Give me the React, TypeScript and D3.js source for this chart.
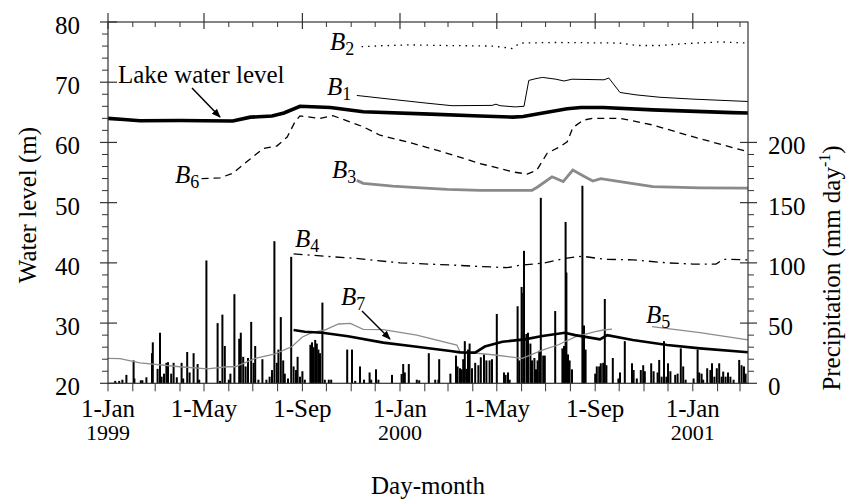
import React from "react";
import * as d3 from "d3";

// ---------- DATA (day offset from 1-Jan-1999, value) ----------
const lakeLevel: [number, number][] = [
  [0, 64.0], [20, 63.8], [40, 63.6], [90, 63.65], [120, 63.6], [156, 63.55], [178, 64.2], [205, 64.4],
  [220, 64.9], [240, 66.0], [278, 65.8], [319, 65.1], [403, 64.7], [465, 64.4], [506, 64.2], [519, 64.3],
  [540, 64.8], [574, 65.6], [591, 65.8], [619, 65.8], [681, 65.4], [780, 64.95], [800, 64.9],
];
const b1: [number, number][] = [
  [311, 67.8], [345, 67.3], [400, 66.5], [430, 66.1], [480, 66.15], [485, 66.35], [490, 66.1], [509, 65.9],
  [520, 66.0], [526, 70.3], [535, 70.6], [543, 70.8], [560, 70.5], [570, 70.2], [580, 70.5], [600, 70.45],
  [620, 70.4], [626, 70.7], [640, 68.3], [660, 67.9], [690, 67.5], [730, 67.2], [800, 66.8],
];
const b2: [number, number][] = [
  [317, 75.9], [340, 76.05], [374, 76.2], [420, 76.1], [480, 76.0], [500, 75.7], [505, 75.6], [515, 76.5],
  [560, 76.6], [640, 76.5], [660, 76.1], [690, 76.1], [720, 76.4], [765, 76.7], [800, 76.5],
];
const b3: [number, number][] = [
  [311, 53.7], [319, 53.2], [356, 52.75], [386, 52.5], [424, 52.2], [465, 52.05], [530, 52.05], [537, 52.6],
  [555, 54.3], [569, 53.5], [581, 55.4], [596, 54.3], [606, 53.6], [616, 54.0], [640, 53.5], [681, 52.65],
  [740, 52.45], [800, 52.4],
];
const b4: [number, number][] = [
  [232, 41.5], [271, 41.1], [309, 40.75], [365, 40.0], [428, 39.65], [465, 39.4], [499, 39.2], [515, 39.6],
  [546, 40.0], [571, 40.75], [593, 41.1], [620, 40.6], [656, 40.5], [699, 40.0], [731, 39.8], [760, 39.8],
  [769, 40.6], [800, 40.5],
];
const b5a: [number, number][] = [
  [0, 24.15], [15, 24.1], [40, 23.4], [90, 22.75], [124, 22.4], [149, 22.75], [159, 22.75], [184, 24.15],
  [209, 24.9], [230, 26.1], [243, 27.7], [255, 28.4], [271, 28.85], [288, 29.85], [303, 29.96], [319, 28.97],
  [344, 28.9], [386, 28.0], [436, 26.36], [440, 25.25], [484, 24.7], [518, 24.15], [543, 25.5], [563, 26.4],
  [584, 27.7], [609, 28.6], [619, 28.85], [630, 29.0],
];
const b5b: [number, number][] = [[680, 29.4], [740, 28.4], [800, 27.2]];
const b6: [number, number][] = [
  [117, 54.0], [140, 54.1], [156, 54.9], [181, 57.6], [194, 59.0], [211, 59.4], [224, 60.9], [234, 63.5],
  [240, 64.4], [265, 64.0], [281, 64.45], [319, 62.6], [340, 61.2], [381, 59.85], [424, 58.2], [465, 56.5],
  [506, 55.1], [524, 54.75], [536, 55.4], [549, 58.2], [565, 59.3], [574, 60.1], [581, 62.45], [594, 63.7],
  [606, 64.0], [640, 64.0], [681, 62.9], [731, 60.95], [800, 58.45],
];
const b7: [number, number][] = [
  [232, 28.85], [246, 28.57], [268, 28.4], [284, 28.1], [300, 27.8], [344, 26.75], [386, 26.08], [428, 25.36],
  [440, 25.13], [459, 25.1], [471, 26.1], [493, 26.9], [521, 27.3], [543, 27.85], [571, 28.4], [584, 28.0],
  [615, 27.3], [624, 28.0], [656, 27.2], [699, 26.36], [740, 25.8], [800, 25.15],
];
// daily precipitation (mm day-1)
const precipitation: [number, number][] = [
  [9, 2], [14, 2], [18, 3], [23, 7], [32, 19], [33, 4], [41, 2.5], [43, 2.5], [48, 5], [55, 25], [56, 34],
  [62, 12], [65, 42], [67, 5.5], [70, 8], [73, 17], [75, 17.5], [79, 8], [82, 17], [86, 5], [92, 17], [94, 4],
  [99, 26], [102, 9], [107, 25], [112, 16], [114, 3], [123, 102], [137, 50], [140, 2], [143, 57], [146, 31],
  [151, 3], [153, 8], [158, 74], [164, 37], [166, 42], [169, 22], [172, 14], [175, 21], [179, 51], [182, 17],
  [184, 31], [188, 3], [193, 20], [198, 3], [202, 5.5], [205, 11], [208, 118], [211, 17], [213, 28], [216, 55],
  [219, 19], [221, 8], [225, 4], [229, 105], [232, 14], [235, 11], [237, 22], [240, 5.5], [243, 10], [246, 3],
  [253, 32], [255, 34], [257, 30], [259, 36], [261, 33], [263, 28], [265, 25], [268, 67], [271, 3], [276, 3],
  [279, 3], [299, 28], [305, 28], [309, 2], [315, 14], [320, 3], [327, 9], [329, 3], [335, 11.6], [338, 3],
  [355, 7], [367, 7.7], [369, 16], [371, 9], [376, 16], [386, 3], [389, 2.5], [401, 25], [409, 3], [413, 3],
  [414, 20], [428, 8], [435, 23], [437, 14], [440, 12.5], [442, 11.6], [444, 20], [446, 35], [448, 12], [450, 28],
  [452, 33], [455, 12.5], [459, 17], [463, 15], [466, 21.6], [470, 24], [473, 19], [477, 19], [480, 20],
  [486, 57.6], [495, 9], [497, 7], [500, 9], [502, 3], [512, 64], [514, 19], [517, 80], [519, 75], [520, 110],
  [523, 41], [525, 42], [528, 33], [530, 19], [533, 21], [535, 11.6], [537, 19], [539, 27], [541, 154], [544, 23],
  [546, 23], [559, 60], [568, 29], [570, 31], [572, 134], [573, 92], [575, 24], [577, 19], [580, 11.6], [593, 164],
  [595, 48], [597, 28], [609, 8], [611, 14], [614, 14], [616, 16.6], [619, 17], [621, 70], [623, 15], [631, 21],
  [638, 4], [640, 9], [646, 35], [655, 16.6], [657, 11], [661, 4], [666, 11], [669, 15], [671, 10], [679, 16.6],
  [682, 10], [687, 9], [689, 19.4], [692, 5.5], [695, 35], [698, 5.5], [700, 16.6], [703, 10], [709, 7], [712, 8],
  [716, 29], [719, 14], [722, 3], [732, 4], [737, 28], [739, 9], [742, 8], [744, 3], [749, 12.5], [753, 11],
  [755, 16.6], [758, 5.5], [761, 12.5], [764, 16.6], [767, 5.5], [769, 9.7], [772, 5.5], [775, 9], [778, 5.5],
  [782, 3], [789, 19.4], [792, 15], [795, 14], [797, 8],
];
const leftTicks = [20, 30, 40, 50, 60, 70, 80];
const rightTicks = [0, 50, 100, 150, 200];
const monthNames = ["Jan", "Feb", "Mar", "Apr", "May", "Jun", "Jul", "Aug", "Sep", "Oct", "Nov", "Dec"];
const majorMonths = [0, 4, 8];

// ---------- LAYOUT ----------
const W = 850, H = 502;
const L = 108, R = 748, T = 22, B = 383.3;
const DAY = 864e5;
const START = Date.UTC(1999, 0, 1);
const FONT = "'Liberation Serif', 'Times New Roman', serif";

const x = d3.scaleUtc().domain([new Date(START), new Date(START + 800 * DAY)]).range([L, R]);
const yL = d3.scaleLinear().domain([20, 80]).range([B, T]);
const yR = d3.scaleLinear().domain([0, 300]).range([B, T]);
const xd = (d: number) => x(new Date(START + d * DAY));

const line = d3.line<[number, number]>().x((d) => xd(d[0])).y((d) => yL(d[1]));

function BLabel({ x0, y0, sub }: { x0: number; y0: number; sub: string }) {
  return (
    <text x={x0} y={y0} fontFamily={FONT} fontSize={25} fontStyle="italic">
      B<tspan fontStyle="normal" fontSize={18} dy={5}>{sub}</tspan>
    </text>
  );
}

export default function App() {
  const months = d3.utcMonth.range(new Date(START), new Date(START + 800 * DAY + 1));
  const minorL = d3.range(20, 81, 2).filter((v) => v % 10 !== 0);
  const minorR = d3.range(0, 201, 10).filter((v) => v % 50 !== 0);
  return (
    <svg width={W} height={H} style={{ position: "absolute", left: 0, top: 0, background: "#fff" }}>
      <rect x={0} y={0} width={W} height={H} fill="#fff" />
      <defs>
        <marker id="arr" viewBox="0 0 10 10" refX="9" refY="5" markerWidth="9" markerHeight="9" orient="auto-start-reverse" markerUnits="userSpaceOnUse">
          <path d="M0,1 L10,5 L0,9 z" fill="#000" />
        </marker>
      </defs>

      {/* precipitation bars */}
      {precipitation.map(([d, p], i) => (
        <rect key={i} x={xd(d) - 1} y={yR(p)} width={2} height={B - yR(p)} fill="#000" />
      ))}

      {/* lines */}
      <path d={line(b5a) || ""} fill="none" stroke="#8c8c8c" strokeWidth={1.3} />
      <path d={line(b5b) || ""} fill="none" stroke="#8c8c8c" strokeWidth={1.3} />
      <path d={line(b3) || ""} fill="none" stroke="#8a8a8a" strokeWidth={2.8} />
      <path d={line(b2) || ""} fill="none" stroke="#000" strokeWidth={1.3} strokeDasharray="1.5 5" />
      <path d={line(b1) || ""} fill="none" stroke="#000" strokeWidth={1} />
      <path d={line(b6) || ""} fill="none" stroke="#000" strokeWidth={1.3} strokeDasharray="7 5" />
      <path d={line(b4) || ""} fill="none" stroke="#000" strokeWidth={1.3} strokeDasharray="9 5 2 5" />
      <path d={line(b7) || ""} fill="none" stroke="#000" strokeWidth={2.6} />
      <path d={line(lakeLevel) || ""} fill="none" stroke="#000" strokeWidth={3.6} />

      {/* frame */}
      <rect x={L} y={T} width={R - L} height={B - T} fill="none" stroke="#333" strokeWidth={1.2} />

      {/* left axis */}
      {leftTicks.map((v) => (
        <g key={"l" + v}>
          <line x1={L - 8} x2={L + 9} y1={yL(v)} y2={yL(v)} stroke="#333" strokeWidth={1.2} />
          <text x={L - 28} y={yL(v) + 12} textAnchor="end" fontFamily={FONT} fontSize={25}>{v}</text>
        </g>
      ))}
      {minorL.map((v) => (
        <line key={"lm" + v} x1={L - 6} x2={L} y1={yL(v)} y2={yL(v)} stroke="#333" strokeWidth={1} />
      ))}

      {/* right axis */}
      {rightTicks.map((v) => (
        <g key={"r" + v}>
          <line x1={R - 8} x2={R + 9} y1={yR(v)} y2={yR(v)} stroke="#333" strokeWidth={1.2} />
          <text x={R + 20} y={yR(v) + 12} textAnchor="start" fontFamily={FONT} fontSize={25}>{v}</text>
        </g>
      ))}
      {minorR.map((v) => (
        <line key={"rm" + v} x1={R} x2={R + 6} y1={yR(v)} y2={yR(v)} stroke="#333" strokeWidth={1} />
      ))}

      {/* x axes */}
      {months.map((m, i) => {
        const mx = x(m);
        const mo = m.getUTCMonth();
        const major = majorMonths.includes(mo);
        return (
          <g key={"m" + i}>
            <line x1={mx} x2={mx} y1={B} y2={B + 8} stroke="#333" strokeWidth={1} />
            {major ? (
              <line x1={mx} x2={mx} y1={T - 9} y2={T + 7} stroke="#333" strokeWidth={1.2} />
            ) : (
              <line x1={mx} x2={mx} y1={T} y2={T + 5} stroke="#333" strokeWidth={1} />
            )}
            {major && (
              <text x={mx} y={417} textAnchor="middle" fontFamily={FONT} fontSize={25}>
                {"1-" + monthNames[mo]}
              </text>
            )}
            {major && mo === 0 && (
              <text x={mx} y={440} textAnchor="middle" fontFamily={FONT} fontSize={22}>
                {m.getUTCFullYear()}
              </text>
            )}
          </g>
        );
      })}

      {/* axis titles */}
      <text x={428} y={494} textAnchor="middle" fontFamily={FONT} fontSize={25}>Day-month</text>
      <text transform={`translate(36,205) rotate(-90)`} textAnchor="middle" fontFamily={FONT} fontSize={25}>
        Water level (m)
      </text>
      <text transform={`translate(840,268) rotate(-90)`} textAnchor="middle" fontFamily={FONT} fontSize={25}>
        Precipitation (mm day<tspan fontSize={16} dy={-10}>-1</tspan><tspan dy={10}>)</tspan>
      </text>

      {/* annotations */}
      <text x={118} y={83} fontFamily={FONT} fontSize={25}>Lake water level</text>
      <line x1={192} y1={88} x2={220} y2={117} stroke="#000" strokeWidth={1.5} markerEnd="url(#arr)" />
      <BLabel x0={330} y0={50} sub="2" />
      <BLabel x0={327} y0={95} sub="1" />
      <BLabel x0={175} y0={183} sub="6" />
      <BLabel x0={332} y0={178} sub="3" />
      <BLabel x0={295} y0={247} sub="4" />
      <BLabel x0={341} y0={305} sub="7" />
      <line x1={362} y1={311} x2={390} y2={339} stroke="#000" strokeWidth={1.5} markerEnd="url(#arr)" />
      <BLabel x0={646} y0={323} sub="5" />
    </svg>
  );
}
